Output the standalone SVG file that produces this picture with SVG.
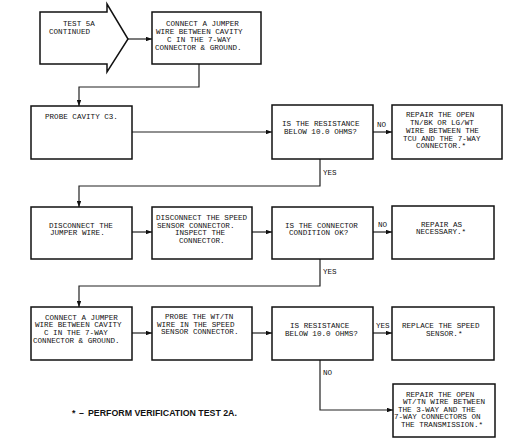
<svg xmlns="http://www.w3.org/2000/svg" width="525" height="440" viewBox="0 0 525 440">
<defs>
<style>
.box{fill:#fff;stroke:#111;stroke-width:1.5}
.t{font-family:"Liberation Mono","DejaVu Sans Mono",monospace;font-size:7.6px;fill:#111}
.c{fill:none;stroke:#222;stroke-width:1.2}
.lbl{font-family:"Liberation Mono","DejaVu Sans Mono",monospace;font-size:7.6px;fill:#111}
.fn{font-family:"Liberation Sans",Arial,sans-serif;font-size:8.8px;font-weight:bold;fill:#111}
</style>
<marker id="ah" viewBox="0 0 8 6" refX="8" refY="3" markerWidth="6" markerHeight="4.5" orient="auto" markerUnits="userSpaceOnUse">
<path d="M0,0 L8,3 L0,6 z" fill="#111"/>
</marker>
</defs>
<rect width="525" height="440" fill="#fff"/>

<g id="connectors">
<path class="c" d="M128,39 H152" marker-end="url(#ah)"/>
<path class="c" d="M199,64 V87 H79 V106" marker-end="url(#ah)"/>
<path class="c" d="M132,132 H272" marker-end="url(#ah)"/>
<path class="c" d="M373,132 H392" marker-end="url(#ah)"/>
<path class="c" d="M320,159 V186 H79 V207" marker-end="url(#ah)"/>
<path class="c" d="M132,232 H152" marker-end="url(#ah)"/>
<path class="c" d="M252,232 H272" marker-end="url(#ah)"/>
<path class="c" d="M373,232 H392" marker-end="url(#ah)"/>
<path class="c" d="M320,259 V286 H79 V307" marker-end="url(#ah)"/>
<path class="c" d="M132,333 H152" marker-end="url(#ah)"/>
<path class="c" d="M252,333 H272" marker-end="url(#ah)"/>
<path class="c" d="M373,333 H392" marker-end="url(#ah)"/>
<path class="c" d="M320,360 V410 H393" marker-end="url(#ah)"/>
<text class="lbl" x="377" y="127">NO</text>
<text class="lbl" x="323" y="175">YES</text>
<text class="lbl" x="378" y="227">NO</text>
<text class="lbl" x="323" y="274">YES</text>
<text class="lbl" x="376" y="328">YES</text>
<text class="lbl" x="323" y="375">NO</text>
</g>

<g id="start">
<polygon class="box" points="40,12 107,12 107,4 128,39 107,72 107,64 40,64"/>
<text class="t" x="63" y="26">TEST 5A</text>
<text class="t" x="49" y="34">CONTINUED</text>
</g>

<g id="connect-jumper-1">
<rect class="box" x="152" y="12" width="109" height="52"/>
<text class="t" x="166" y="26">CONNECT A JUMPER</text>
<text class="t" x="156" y="34">WIRE BETWEEN CAVITY</text>
<text class="t" x="167" y="42">C IN THE 7-WAY</text>
<text class="t" x="155" y="50">CONNECTOR &amp; GROUND.</text>
</g>

<g id="probe-c3">
<rect class="box" x="31" y="106" width="101" height="53"/>
<text class="t" x="45" y="119">PROBE CAVITY C3.</text>
</g>

<g id="decision-1">
<rect class="box" x="272" y="105" width="101" height="54"/>
<text class="t" x="282" y="126">IS THE RESISTANCE</text>
<text class="t" x="284" y="134">BELOW 10.0 OHMS?</text>
</g>

<g id="repair-1">
<rect class="box" x="392" y="105" width="110" height="54"/>
<text class="t" x="406" y="117">REPAIR THE OPEN</text>
<text class="t" x="410" y="125">TN/BK OR LG/WT</text>
<text class="t" x="406" y="133">WIRE BETWEEN THE</text>
<text class="t" x="403" y="141">TCU AND THE 7-WAY</text>
<text class="t" x="416" y="148">CONNECTOR.*</text>
</g>

<g id="disconnect-jumper">
<rect class="box" x="31" y="207" width="101" height="52"/>
<text class="t" x="49" y="228">DISCONNECT THE</text>
<text class="t" x="50" y="235">JUMPER WIRE.</text>
</g>

<g id="disconnect-sensor">
<rect class="box" x="152" y="207" width="100" height="52"/>
<text class="t" x="156" y="220">DISCONNECT THE SPEED</text>
<text class="t" x="157" y="228">SENSOR CONNECTOR.</text>
<text class="t" x="175" y="235">INSPECT THE</text>
<text class="t" x="179" y="243">CONNECTOR.</text>
</g>

<g id="decision-2">
<rect class="box" x="272" y="207" width="101" height="52"/>
<text class="t" x="285" y="228">IS THE CONNECTOR</text>
<text class="t" x="289" y="235">CONDITION OK?</text>
</g>

<g id="repair-2">
<rect class="box" x="392" y="206" width="102" height="53"/>
<text class="t" x="421" y="227">REPAIR AS</text>
<text class="t" x="416" y="234">NECESSARY.*</text>
</g>

<g id="connect-jumper-2">
<rect class="box" x="31" y="307" width="101" height="53"/>
<text class="t" x="45" y="320">CONNECT A JUMPER</text>
<text class="t" x="35" y="327">WIRE BETWEEN CAVITY</text>
<text class="t" x="44" y="335">C IN THE 7-WAY</text>
<text class="t" x="33" y="343">CONNECTOR &amp; GROUND.</text>
</g>

<g id="probe-wire">
<rect class="box" x="152" y="307" width="100" height="53"/>
<text class="t" x="165" y="319">PROBE THE WT/TN</text>
<text class="t" x="157" y="327">WIRE IN THE SPEED</text>
<text class="t" x="161" y="334">SENSOR CONNECTOR.</text>
</g>

<g id="decision-3">
<rect class="box" x="272" y="307" width="101" height="53"/>
<text class="t" x="290" y="328">IS RESISTANCE</text>
<text class="t" x="285" y="336">BELOW 10.0 OHMS?</text>
</g>

<g id="replace-sensor">
<rect class="box" x="392" y="307" width="102" height="53"/>
<text class="t" x="402" y="328">REPLACE THE SPEED</text>
<text class="t" x="426" y="336">SENSOR.*</text>
</g>

<g id="repair-3">
<rect class="box" x="393" y="384" width="102" height="53"/>
<text class="t" x="406" y="397">REPAIR THE OPEN</text>
<text class="t" x="403" y="404">WT/TN WIRE BETWEEN</text>
<text class="t" x="398" y="412">THE 3-WAY AND THE</text>
<text class="t" x="394" y="419">7-WAY CONNECTORS ON</text>
<text class="t" x="401" y="427">THE TRANSMISSION.*</text>
</g>

<g id="footnote">
<text class="fn" x="72" y="416">*</text>
<text class="fn" x="79" y="416">–</text>
<text class="fn" x="88" y="416">PERFORM VERIFICATION TEST 2A.</text>
</g>
</svg>
